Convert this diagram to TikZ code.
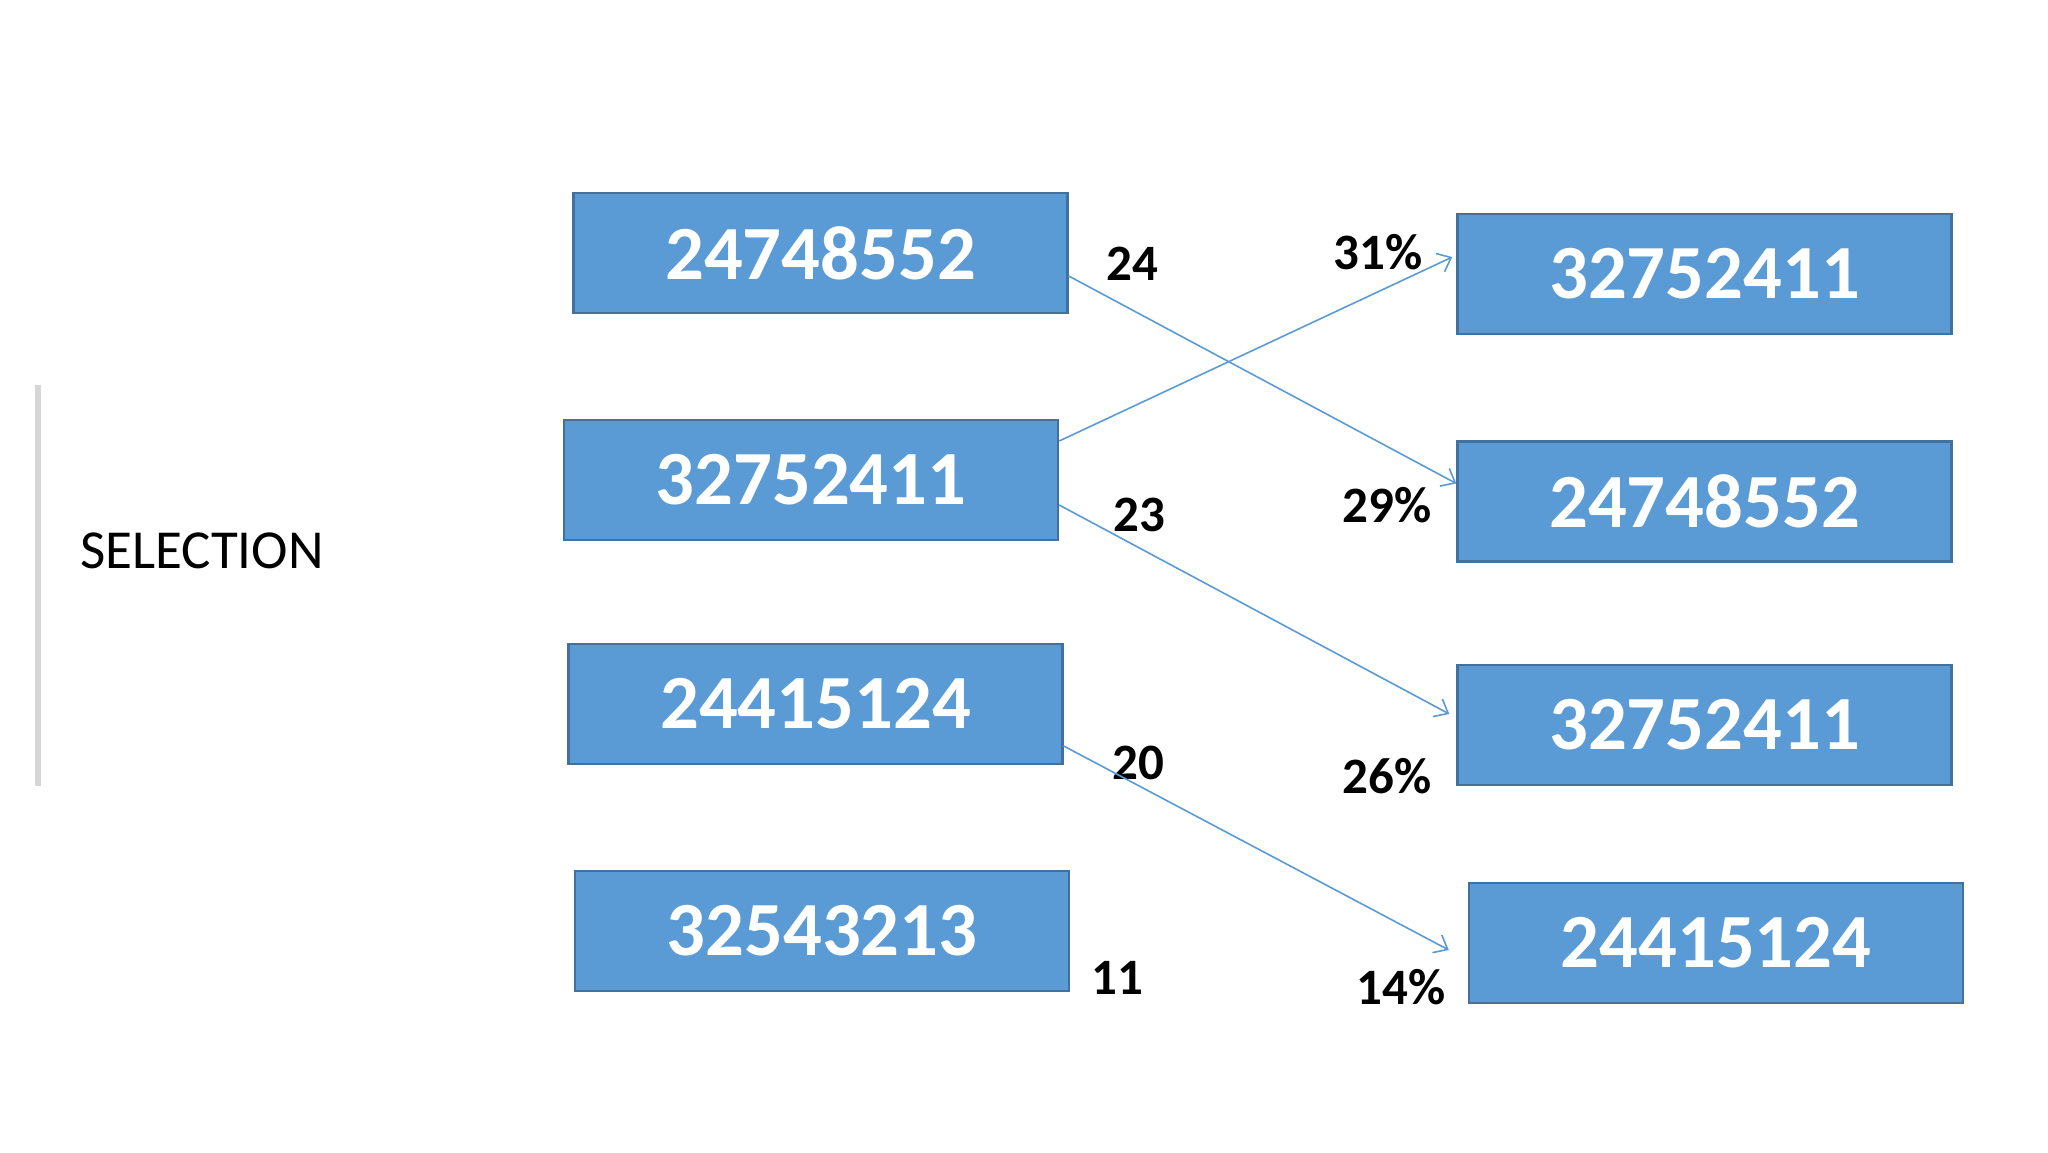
\documentclass[tikz,border=0pt]{standalone}
\usepackage{fontspec}
\setmainfont{Carlito}
\usetikzlibrary{arrows.meta}
\definecolor{boxfill}{HTML}{5B9BD5}
\definecolor{boxline}{HTML}{41719C}
\definecolor{arrowc}{HTML}{5B9BD5}
\definecolor{barc}{HTML}{D6D6D6}
\tikzset{
  numbox/.style={draw=boxline, line width=1.2pt, fill=boxfill, minimum width=247pt, minimum height=60pt, inner sep=0pt, text=white, font=\fontsize{38.3}{40}\selectfont\bfseries},
  lbl/.style={inner sep=0pt, text=black, font=\fontsize{25.5}{28}\selectfont\bfseries},
  conn/.style={draw=arrowc, line width=0.8pt, -{Straight Barb[length=6pt,width=10pt,line width=0.8pt]}}
}
\begin{document}
\begin{tikzpicture}[x=0.5pt,y=-0.5pt]
\path[use as bounding box, fill=white] (0,0) rectangle (2048,1152);
% vertical bar and title
\draw[barc, line width=3pt] (38,385) -- (38,786);
\node[inner sep=0pt, font=\fontsize{27.5}{30}\selectfont] (title) at (202,551) {SELECTION};
% left column
\node[numbox] (b1) at (820.5,253) {24748552};
\node[numbox] (b2) at (811,480) {32752411};
\node[numbox] (b3) at (815.5,704) {24415124};
\node[numbox] (b4) at (822,931) {32543213};
% right column
\node[numbox] (r1) at (1704.5,274) {32752411};
\node[numbox] (r2) at (1704.5,501.5) {24748552};
\node[numbox] (r3) at (1704.5,725) {32752411};
\node[numbox] (r4) at (1716,943) {24415124};
% fitness labels
\node[lbl] (f1) at (1132,264) {24};
\node[lbl] (f2) at (1139,515) {23};
\node[lbl] (f3) at (1138,763) {20};
\node[lbl] (f4) at (1117,978) {11};
% percentage labels
\node[lbl] (p1) at (1378,252) {31\%};
\node[lbl] (p2) at (1387,505) {29\%};
\node[lbl] (p3) at (1387,776) {26\%};
\node[lbl] (p4) at (1401,987) {14\%};
% connectors
\draw[conn] ([yshift=-11.5pt]b1.east) -- ([yshift=9pt]r2.west);
\draw[conn] ([yshift=19.5pt]b2.east) -- ([xshift=-2pt,yshift=8.5pt]r1.west);
\draw[conn] ([yshift=-12.5pt]b2.east) -- ([xshift=-3.5pt,yshift=5.5pt]r3.west);
\draw[conn] ([yshift=-21pt]b3.east) -- ([xshift=-9.5pt,yshift=-3.5pt]r4.west);
\end{tikzpicture}
\end{document}
